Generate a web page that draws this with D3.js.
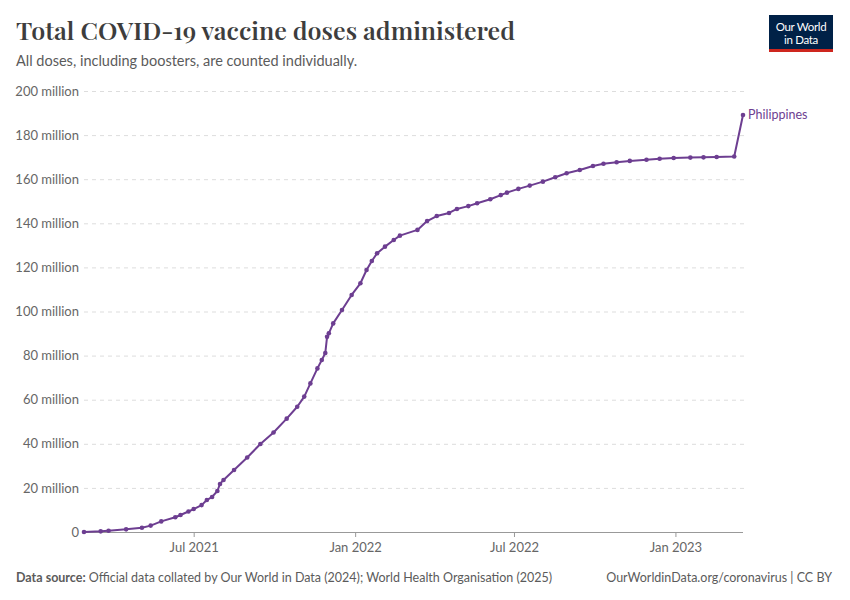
<!DOCTYPE html>
<html>
<head>
<meta charset="utf-8">
<script src="https://cdn.jsdelivr.net/npm/d3@7"></script>
<style>
  html, body { margin: 0; padding: 0; background: #fff; }
  svg { display: block; }
</style>
</head>
<body>
<svg id="chart" width="850" height="600"></svg>
<script>
// ---- Data ----
const dates = [
  "2021-02-26","2021-03-17","2021-03-26","2021-04-15","2021-05-03","2021-05-13","2021-05-25",
  "2021-06-10","2021-06-16","2021-06-25","2021-07-01","2021-07-10","2021-07-16","2021-07-22",
  "2021-07-28","2021-07-31","2021-08-04","2021-08-16","2021-08-31","2021-09-15","2021-09-30",
  "2021-10-15","2021-10-27","2021-11-04","2021-11-11","2021-11-19","2021-11-24","2021-11-28",
  "2021-11-30","2021-12-02","2021-12-07","2021-12-17","2021-12-28","2022-01-07","2022-01-14",
  "2022-01-20","2022-01-26","2022-02-04","2022-02-14","2022-02-21","2022-03-13","2022-03-24",
  "2022-04-04","2022-04-18","2022-04-27","2022-05-10","2022-05-20","2022-06-04","2022-06-16",
  "2022-06-23","2022-07-06","2022-07-19","2022-08-03","2022-08-17","2022-08-30","2022-09-14",
  "2022-09-29","2022-10-11","2022-10-26","2022-11-10","2022-11-29","2022-12-14","2022-12-30",
  "2023-01-18","2023-02-02","2023-02-17","2023-03-09","2023-03-19"
];
const dosesMillions = [
  0.0, 0.3, 0.6, 1.2, 1.95, 2.9, 4.8,
  6.7, 7.7, 9.3, 10.4, 12.2, 14.5, 15.9,
  18.6, 21.8, 23.6, 28.1, 33.8, 39.9, 45.1,
  51.4, 56.8, 61.4, 67.4, 74.2, 78.0, 81.2,
  88.5, 90.1, 94.6, 100.7, 107.5, 112.8, 118.8,
  122.9, 126.4, 129.4, 132.4, 134.4, 137.0, 141.0,
  143.3, 144.7, 146.5, 147.8, 149.1, 150.9, 152.8,
  153.9, 155.6, 157.1, 158.9, 160.9, 162.7, 164.2,
  166.0, 167.0, 167.7, 168.3, 168.8, 169.3, 169.6,
  169.8, 169.9, 170.1, 170.3, 189.1
];
const country = "Philippines";
const yTicks = [0, 20, 40, 60, 80, 100, 120, 140, 160, 180, 200];
const xTickDates = ["2021-07-01","2022-01-01","2022-07-01","2023-01-01"];

// ---- Layout ----
const svg = d3.select("#chart");
const mLeft = 84, mRight = 743, mTop = 91, mBottom = 532;
const parse = d3.utcParse("%Y-%m-%d");
const data = dates.map((d, i) => ({ date: parse(d), v: dosesMillions[i] * 1e6 }));

const x = d3.scaleUtc()
  .domain(d3.extent(data, d => d.date))
  .range([mLeft, mRight]);
const y = d3.scaleLinear().domain([0, 200e6]).range([mBottom, mTop]);

const purple = "#6D3E91";
const font = "Lato, 'Noto Sans', sans-serif";

// Title / subtitle
svg.append("text")
  .attr("x", 16).attr("y", 40)
  .attr("font-family", "'Playfair Display', 'DejaVu Serif', serif")
  .attr("font-size", 25).attr("font-weight", 600)
  .attr("fill", "#3d3d3d")
  .attr("textLength", 499).attr("lengthAdjust", "spacingAndGlyphs")
  .text("Total COVID-19 vaccine doses administered");

svg.append("text")
  .attr("x", 16).attr("y", 66)
  .attr("font-family", font).attr("font-size", 14.5)
  .attr("fill", "#5b5b5b")
  .text("All doses, including boosters, are counted individually.");

// Logo
const logo = svg.append("g");
logo.append("rect").attr("x", 769).attr("y", 15).attr("width", 64).attr("height", 37).attr("fill", "#002147");
logo.append("rect").attr("x", 769).attr("y", 49).attr("width", 64).attr("height", 3).attr("fill", "#ce261e");
logo.append("text").attr("x", 801).attr("y", 31).attr("text-anchor", "middle")
  .attr("font-family", font).attr("font-size", 11.5).attr("fill", "#fff")
  .attr("letter-spacing", -0.3).text("Our World");
logo.append("text").attr("x", 801).attr("y", 44).attr("text-anchor", "middle")
  .attr("font-family", font).attr("font-size", 11.5).attr("fill", "#fff")
  .attr("letter-spacing", -0.3).text("in Data");

// Y gridlines + labels
const yAxis = d3.axisLeft(y)
  .tickValues(yTicks.map(t => t * 1e6))
  .tickFormat(d => d === 0 ? "0" : (d / 1e6) + " million")
  .tickSize(-(mRight - mLeft + 2))
  .tickPadding(5);
const gy = svg.append("g").attr("transform", `translate(${mLeft},0)`).call(yAxis);
gy.select(".domain").remove();
gy.selectAll(".tick line")
  .attr("stroke", "#dddddd").attr("stroke-dasharray", "4,4")
  .attr("x1", 0);
gy.selectAll(".tick text")
  .attr("font-family", font).attr("font-size", 13).attr("fill", "#666");
gy.selectAll(".tick").filter(d => d === 0).select("line").remove();

// X axis
const xAxis = d3.axisBottom(x)
  .tickValues(xTickDates.map(parse))
  .tickFormat(d3.utcFormat("%b %Y"))
  .tickSize(5).tickPadding(6).tickSizeOuter(0);
const gx = svg.append("g").attr("transform", `translate(0,${mBottom})`).call(xAxis);
gx.select(".domain").attr("stroke", "#999").attr("d", `M${mLeft},0.5H${mRight}`);
gx.selectAll(".tick line").attr("stroke", "#999");
gx.selectAll(".tick text").attr("font-family", font).attr("font-size", 13).attr("fill", "#666");

// Line
const line = d3.line().x(d => x(d.date)).y(d => y(d.v));
svg.append("path").datum(data)
  .attr("d", line).attr("fill", "none")
  .attr("stroke", purple).attr("stroke-width", 2)
  .attr("stroke-linejoin", "round");
svg.append("g").selectAll("circle").data(data).join("circle")
  .attr("cx", d => x(d.date)).attr("cy", d => y(d.v))
  .attr("r", 2.3).attr("fill", purple);

// Series label
const last = data[data.length - 1];
svg.append("text")
  .attr("x", x(last.date) + 5).attr("y", y(last.v))
  .attr("dy", "0.35em")
  .attr("font-family", font).attr("font-size", 12.5).attr("fill", purple)
  .text(country);

// Footer
const foot = svg.append("text").attr("x", 16).attr("y", 582)
  .attr("font-family", font).attr("font-size", 12.5).attr("fill", "#5b5b5b");
foot.append("tspan").attr("font-weight", 700).text("Data source: ");
foot.append("tspan").text("Official data collated by Our World in Data (2024); World Health Organisation (2025)");

svg.append("text").attr("x", 832).attr("y", 582).attr("text-anchor", "end")
  .attr("font-family", font).attr("font-size", 12.5).attr("fill", "#5b5b5b")
  .text("OurWorldinData.org/coronavirus | CC BY");
</script>
</body>
</html>
